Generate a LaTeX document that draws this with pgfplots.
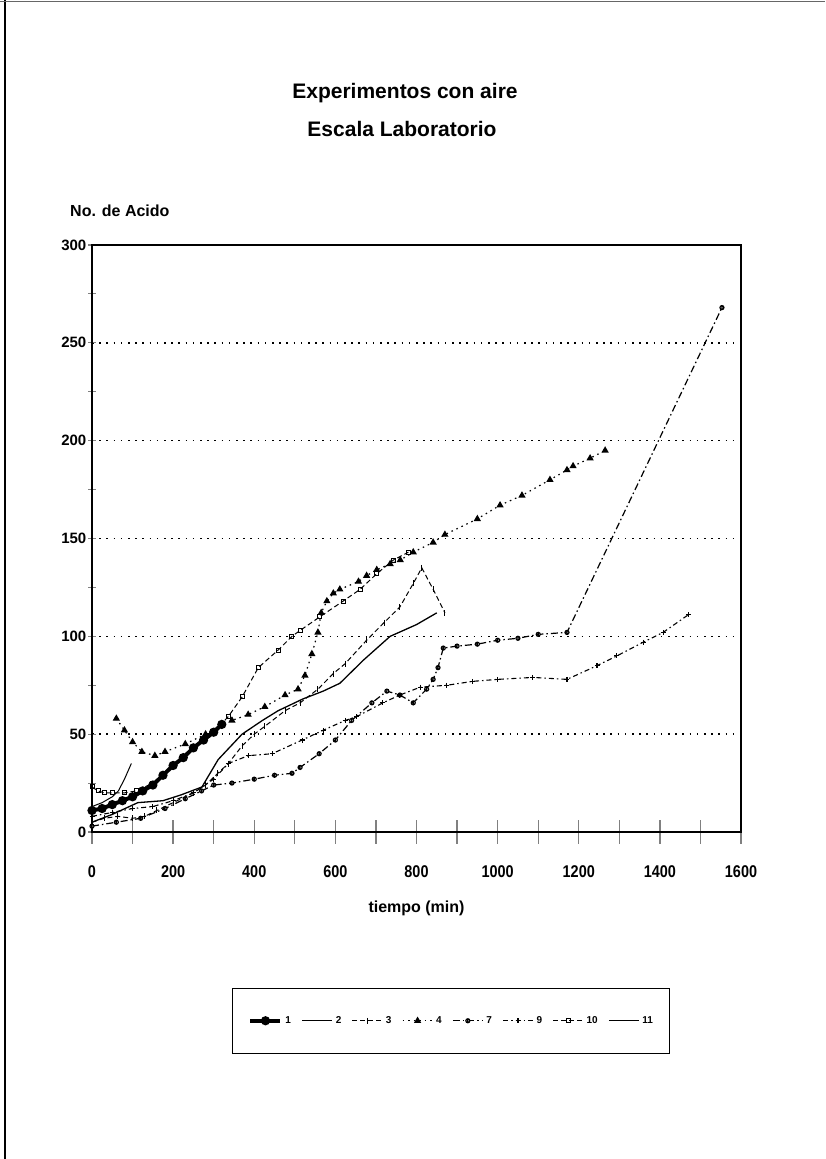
\documentclass[border=0pt]{standalone}
\usepackage{fontspec}
\setmainfont{Liberation Sans}
\newfontfamily\narrowfont[FakeStretch=0.85]{Liberation Sans}
\usepackage{pgfplots}
\pgfplotsset{compat=1.18}
\usetikzlibrary{plotmarks}
\begin{document}
\begin{tikzpicture}
\path[use as bounding box] (0pt,0pt) rectangle (825pt,1159pt);
\fill[white] (0pt,0pt) rectangle (825pt,1159pt);
\draw[line width=2pt] (5pt,0pt) -- (5pt,1159pt);
\draw[line width=1pt,black!60] (0pt,1157pt) -- (825pt,1157pt);
\node[font=\bfseries\fontsize{21}{25}\selectfont,anchor=base] at (405pt,1060pt) {Experimentos con aire};
\node[font=\bfseries\fontsize{21}{25}\selectfont,anchor=base] at (402pt,1022pt) {Escala Laboratorio};
\node[font=\bfseries\fontsize{16}{19}\selectfont,anchor=base west,inner sep=0pt] at (70pt,942pt) {No. de Acido};
\begin{axis}[
  at={(92pt,327pt)}, anchor=south west, scale only axis,
  width=649pt, height=587pt,
  xmin=0, xmax=1600, ymin=0, ymax=300,
  axis line style={line width=1.4pt},
  xtick={0,200,...,1600}, minor xtick={100,300,...,1500},
  ytick={0,50,...,300}, minor ytick={25,75,...,275},
  tick align=center, tick pos=left,
  xtick style={line width=1.3pt,/pgfplots/major tick length=24pt,/pgfplots/minor tick length=24pt},
  ytick style={line width=1.1pt,/pgfplots/major tick length=8pt,/pgfplots/minor tick length=8pt},
  ymajorgrids, grid style={black,line width=1.6pt,dash pattern=on 1.6pt off 5.6pt},
  /pgf/number format/assume math mode=true,
  /pgf/number format/set thousands separator={},
  xticklabel style={font=\narrowfont\bfseries\fontsize{17}{20}\selectfont,anchor=center,yshift=-38pt},
  yticklabel style={font=\bfseries\fontsize{15}{18}\selectfont},
  xlabel={tiempo (min)},
  xlabel style={font=\bfseries\fontsize{16}{19}\selectfont,at={(axis description cs:0.5,-0.1295)},anchor=center},
  legend columns=8,
  legend style={at={(axis description cs:0.2157,-0.2658)},anchor=north west,
    draw=black,line width=1pt,font=\bfseries\fontsize{10}{12}\selectfont,
    inner xsep=16pt,inner ysep=26pt,column sep=2pt,
    nodes={inner xsep=1pt},
    /tikz/every even column/.append style={column sep=9.5pt}},
  legend image code/.code={\draw[mark repeat=2,mark phase=2] plot coordinates {(0pt,0pt) (15pt,0pt) (30pt,0pt)};},
]
% series 1
\addplot[black,line width=4pt,mark=*,mark size=2.5pt] coordinates {
(0,11)(25,12)(50,14)(75,16)(100,18)(125,21)(150,24)(175,29)(200,34)(225,38)(250,43)(275,47)(300,51)(320,55)};
\addlegendentry{1}
% series 2
\addplot[black,line width=1.3pt] coordinates {
(0,5)(50,9)(113,15)(175,16)(220,19)(271,23)(311,37)(370,50)(420,57)(459,62)(520,68)(570,72)(611,76)(670,88)(735,100)(800,106)(850,112)};
\addlegendentry{2}
% series 3
\addplot[black,line width=1pt,dash pattern=on 5pt off 3pt,mark=|,mark size=3pt,mark options={solid}] coordinates {
(0,5)(30,7)(64,8)(100,7)(130,8)(160,11)(200,15)(250,20)(280,24)(310,30)(336,35)(370,44)(400,50)(426,54)(476,62)(513,66)(557,73)(595,81)(624,86)(677,98)(720,107)(759,115)(792,127)(813,135)(841,124)(870,112)};
\addlegendentry{3}
% series 4
\addplot[black,line width=1.2pt,dash pattern=on 1.5pt off 4pt,mark=triangle*,mark size=3pt,mark options={solid}] coordinates {
(60,58)(80,52)(100,46)(123,41)(155,39)(180,41)(230,45)(280,50)(320,55)(345,57)(385,60)(426,64)(476,70)(508,73)(525,80)(542,91)(557,102)(565,112)(579,118)(595,122)(611,124)(657,128)(677,131)(702,134)(735,137)(760,139)(792,143)(841,148)(870,152)(950,160)(1006,167)(1060,172)(1129,180)(1171,185)(1186,187)(1228,191)(1265,195)};
\addlegendentry{4}
% series 7
\addplot[black,line width=1.2pt,dash pattern=on 7pt off 3pt on 1.5pt off 3pt,mark=halfcircle,mark size=2pt,mark options={solid,rotate=90}] coordinates {
(0,3)(60,5)(120,7)(180,12)(230,17)(270,21)(300,24)(345,25)(400,27)(450,29)(493,30)(513,33)(560,40)(600,47)(640,57)(690,66)(727,72)(759,70)(792,66)(825,73)(841,78)(853,84)(866,94)(900,95)(950,96)(1000,98)(1050,99)(1100,101)(1171,102)(1553,268)};
\addlegendentry{7}
% series 9
\addplot[black,line width=1.1pt,dash pattern=on 5pt off 3pt on 1.5pt off 3pt,mark=+,mark size=2.5pt,mark options={solid}] coordinates {
(0,8)(50,10)(100,12)(150,13)(200,16)(250,20)(300,27)(336,35)(385,39)(444,40)(518,47)(570,52)(624,57)(653,59)(717,66)(759,70)(809,74)(875,75)(939,77)(1000,78)(1087,79)(1171,78)(1245,85)(1294,90)(1359,97)(1408,102)(1470,111)};
\addlegendentry{9}
% series 10
\addplot[black,line width=1pt,dash pattern=on 5pt off 3pt,mark=square,mark size=2pt,mark options={solid}] coordinates {
(0,23)(15,21)(30,20)(50,20)(80,20)(110,21)(150,25)(200,34)(250,43)(300,51)(336,59)(370,69)(410,84)(459,93)(493,100)(513,103)(562,110)(619,118)(661,124)(702,132)(743,139)(780,143)};
\addlegendentry{10}
% series 11
\addplot[black,line width=1pt] coordinates {
(0,13)(25,15)(50,18)(65,21)(80,27)(97,35)};
\addlegendentry{11}
\end{axis}
\end{tikzpicture}
\end{document}
